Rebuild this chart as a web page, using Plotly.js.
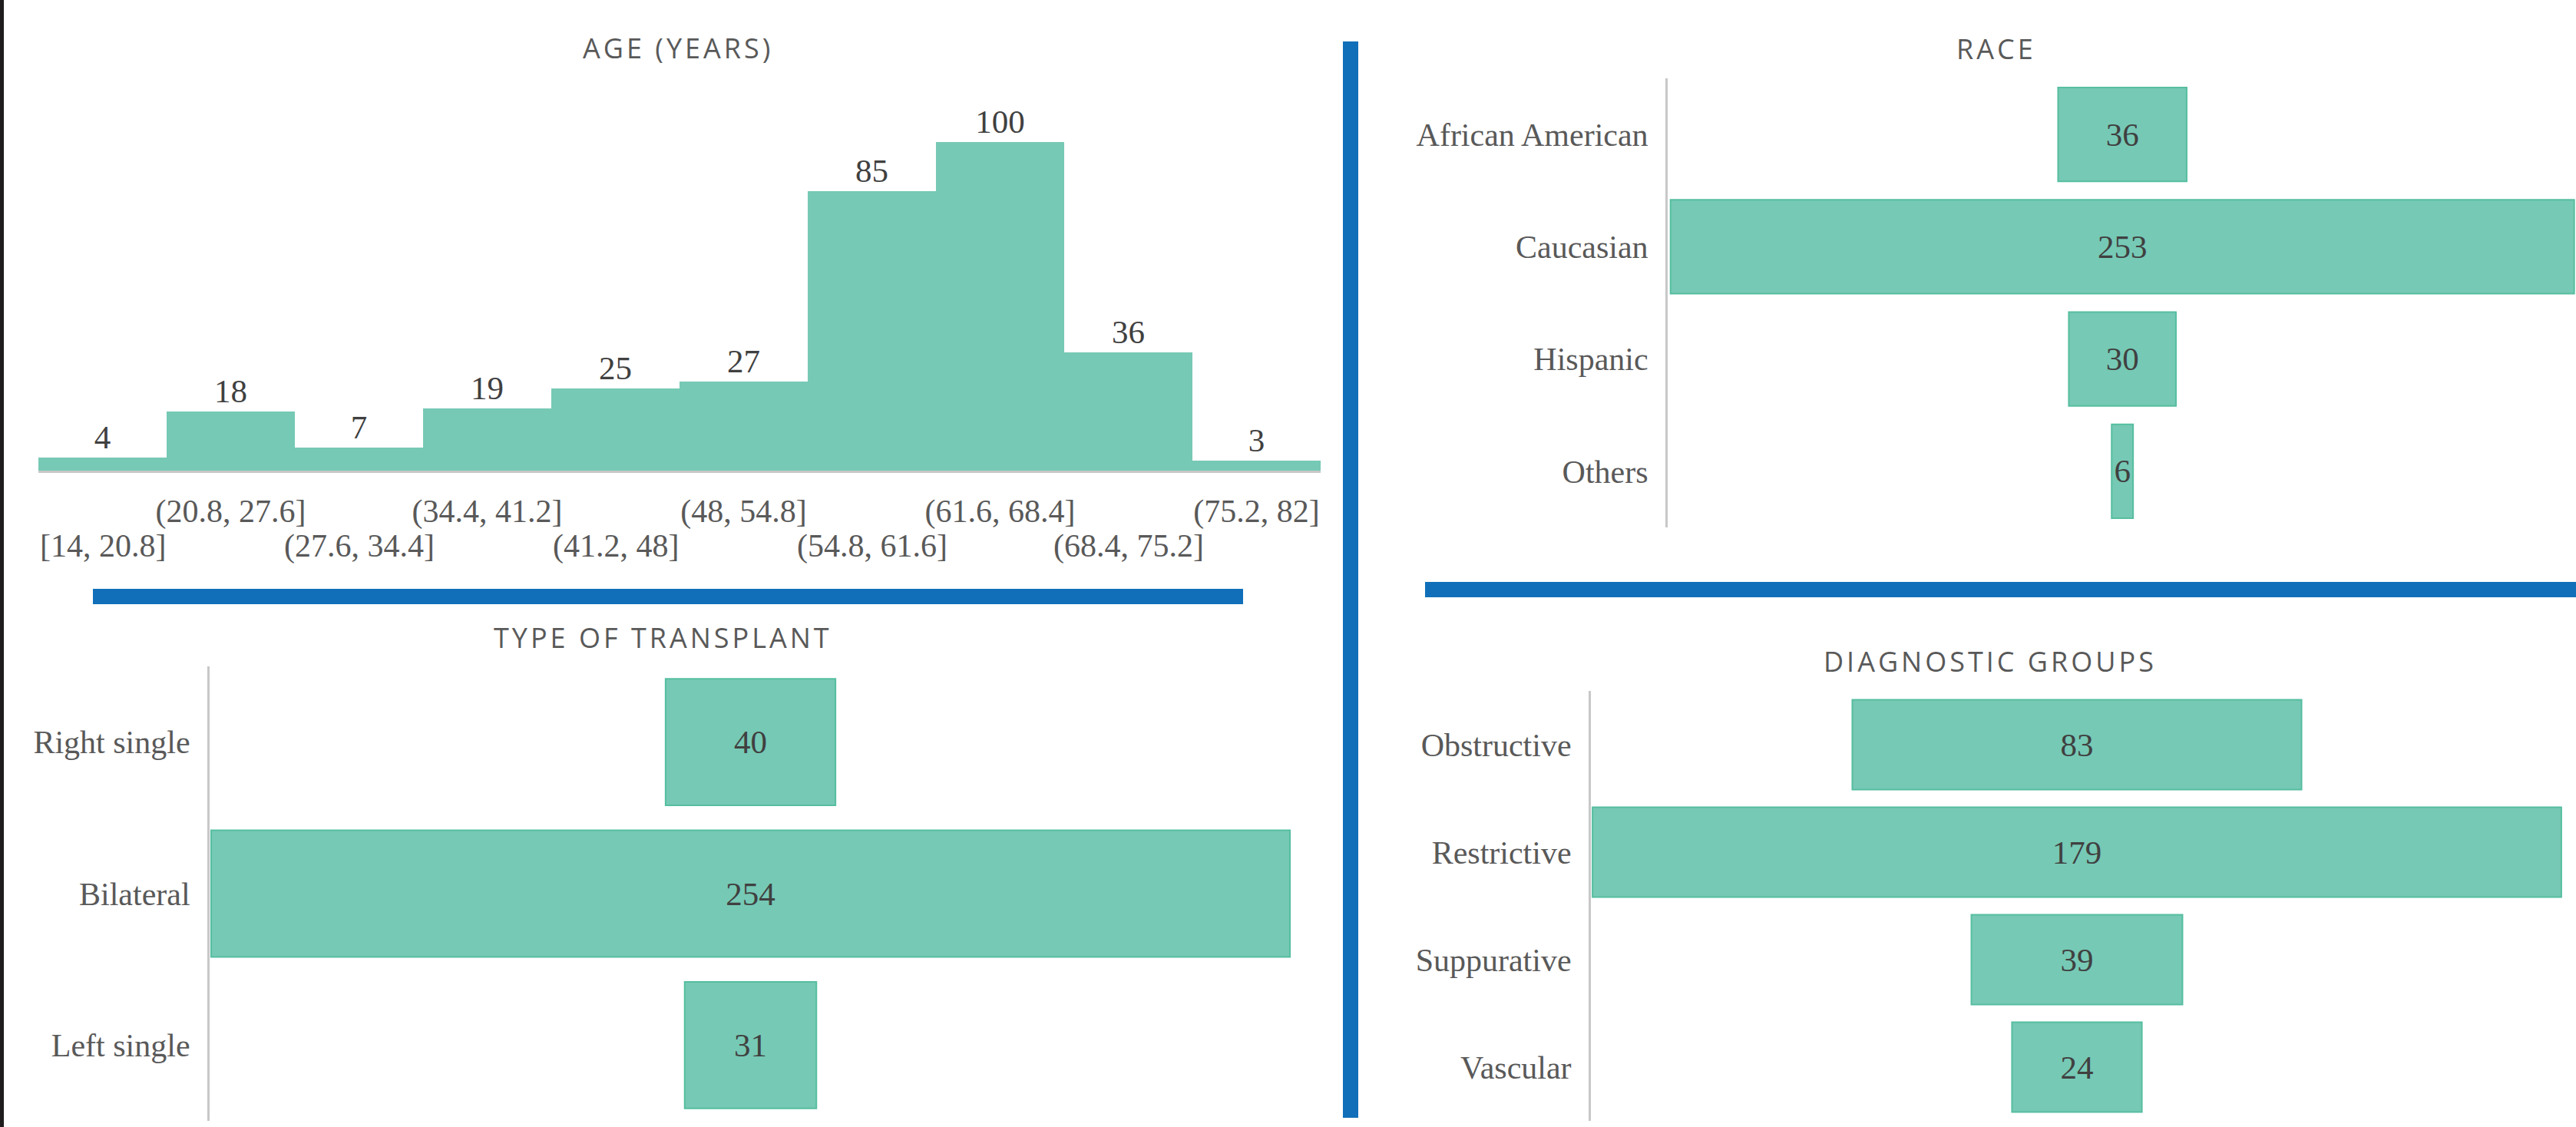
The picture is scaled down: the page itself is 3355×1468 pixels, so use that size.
<!DOCTYPE html>
<html>
<head>
<meta charset="utf-8">
<script src="https://cdn.plot.ly/plotly-3.0.1.min.js"></script>
<style>
  html, body { margin: 0; padding: 0; background: #ffffff; }
  #chart { width: 3355px; height: 1468px; }
  .annotation[data-index="0"] .annotation-text,
  .annotation[data-index="1"] .annotation-text,
  .annotation[data-index="2"] .annotation-text,
  .annotation[data-index="3"] .annotation-text { letter-spacing: 4px; }
</style>
</head>
<body>
<div id="chart"></div>
<script>
// ---- Data ----
const ageBins = ["[14, 20.8]", "(20.8, 27.6]", "(27.6, 34.4]", "(34.4, 41.2]", "(41.2, 48]",
                 "(48, 54.8]", "(54.8, 61.6]", "(61.6, 68.4]", "(68.4, 75.2]", "(75.2, 82]"];
const ageCounts = [4, 18, 7, 19, 25, 27, 85, 100, 36, 3];

const raceCats = ["African American", "Caucasian", "Hispanic", "Others"];
const raceCounts = [36, 253, 30, 6];

const transplantCats = ["Right single", "Bilateral", "Left single"];
const transplantCounts = [40, 254, 31];

const diagCats = ["Obstructive", "Restrictive", "Suppurative", "Vascular"];
const diagCounts = [83, 179, 39, 24];

const titles = ["AGE (YEARS)", "RACE", "TYPE OF TRANSPLANT", "DIAGNOSTIC GROUPS"];

// ---- Styles ----
const W = 3355, H = 1468;
const fill = "rgb(118,201,181)";
const edge = "rgb(86,190,160)";
const serif = "Liberation Serif, Times New Roman, serif";
const valFont = {family: serif, size: 43, color: "#404040"};
const tickFont = {family: serif, size: 42, color: "#595959"};
const blue = "#116FB9";

const px = v => v / W;
const py = v => 1 - v / H;

function funnelTrace(cats, vals, xa, ya) {
  return {
    type: "funnel", y: cats, x: vals, xaxis: xa, yaxis: ya,
    textinfo: "value", textposition: "inside", insidetextanchor: "middle",
    constraintext: "none",
    textfont: valFont, insidetextfont: valFont,
    marker: {color: fill, line: {color: edge, width: 2}},
    connector: {visible: false},
    hoverinfo: "x+y"
  };
}

const traces = [
  {
    type: "bar", x: ageBins, y: ageCounts, xaxis: "x", yaxis: "y",
    text: ageCounts.map(String), textposition: "outside", cliponaxis: false,
    constraintext: "none",
    textfont: valFont, outsidetextfont: valFont,
    marker: {color: fill, line: {width: 0}},
    hoverinfo: "x+y"
  },
  funnelTrace(raceCats, raceCounts, "x2", "y2"),
  funnelTrace(transplantCats, transplantCounts, "x3", "y3"),
  funnelTrace(diagCats, diagCounts, "x4", "y4")
];

function symRange(vals, padL, padR) {
  const m = Math.max(...vals) / 2;
  return [-(m + padL), m + padR];
}

function catY(cats, domain, anchor) {
  return {
    domain: domain, anchor: anchor, type: "category", range: [cats.length - 0.5, -0.5],
    showline: true, linecolor: "#c8c8c8", linewidth: 3,
    ticks: "", ticklabelstandoff: 14, tickfont: tickFont,
    showgrid: false, zeroline: false, fixedrange: true
  };
}

function hiddenX(domain, range, anchor) {
  return {domain: domain, anchor: anchor, range: range, visible: false,
          showgrid: false, zeroline: false, fixedrange: true};
}

// upper row of age labels = odd bins (axis ticks); lower row = even bins (annotations)
const upperBins = ageBins.filter((_, i) => i % 2 === 1);
const lowerBins = ageBins.filter((_, i) => i % 2 === 0);

const titleAnns = [
  {text: titles[0], x: px(883), y: py(62)},
  {text: titles[1], x: px(2600), y: py(64)},
  {text: titles[2], x: px(863), y: py(830)},
  {text: titles[3], x: px(2592), y: py(862)}
].map(a => Object.assign(a, {
  xref: "paper", yref: "paper", showarrow: false, xanchor: "center", yanchor: "middle",
  font: {family: "Open Sans, sans-serif", size: 36, color: "#595959"}
}));

const lowerAnns = lowerBins.map(l => ({
  text: l, x: l, xref: "x", y: py(711), yref: "paper",
  showarrow: false, xanchor: "center", yanchor: "middle", font: tickFont
}));

const layout = {
  width: W, height: H,
  margin: {l: 0, r: 0, t: 0, b: 0},
  paper_bgcolor: "#ffffff", plot_bgcolor: "rgba(0,0,0,0)",
  showlegend: false,
  bargap: 0,
  funnelgap: 0.165,
  xaxis: {
    domain: [px(50), px(1720)], anchor: "y", type: "category", range: [-0.5, ageBins.length - 0.5],
    showline: true, linecolor: "#c8c8c8", linewidth: 3,
    ticks: "", ticklabelstandoff: 14, tickangle: 0,
    tickvals: upperBins, ticktext: upperBins,
    tickfont: tickFont, showgrid: false, zeroline: false, fixedrange: true
  },
  yaxis: {
    domain: [py(613), py(120)], anchor: "x", range: [0, 115.2], visible: false,
    showgrid: false, zeroline: false, fixedrange: true
  },
  xaxis2: hiddenX([px(2172), 1], symRange(raceCounts, 0.8, 0.5), "y2"),
  yaxis2: catY(raceCats, [py(687), py(102)], "x2"),
  xaxis3: hiddenX([px(273), px(1682)], symRange(transplantCounts, 0.35, 0.35), "y3"),
  yaxis3: catY(transplantCats, [py(1460), py(868)], "x3"),
  xaxis4: hiddenX([px(2072), px(3338)], symRange(diagCounts, 0.3, 0.3), "y4"),
  yaxis4: catY(diagCats, [py(1460), py(900)], "x4"),
  annotations: titleAnns.concat(lowerAnns),
  shapes: [
    {x0: 0, x1: px(5), y0: 0, y1: 1},
    {x0: px(1749), x1: px(1769), y0: py(1456), y1: py(54)},
    {x0: px(121), x1: px(1619), y0: py(787), y1: py(767)},
    {x0: px(1856), x1: 1, y0: py(778), y1: py(758)}
  ].map((s, i) => Object.assign(s, {
    type: "rect", xref: "paper", yref: "paper", layer: "above",
    fillcolor: i === 0 ? "#1e1c1c" : blue, line: {width: 0}
  }))
};

Plotly.newPlot("chart", traces, layout, {displayModeBar: false, staticPlot: true});
</script>
</body>
</html>
